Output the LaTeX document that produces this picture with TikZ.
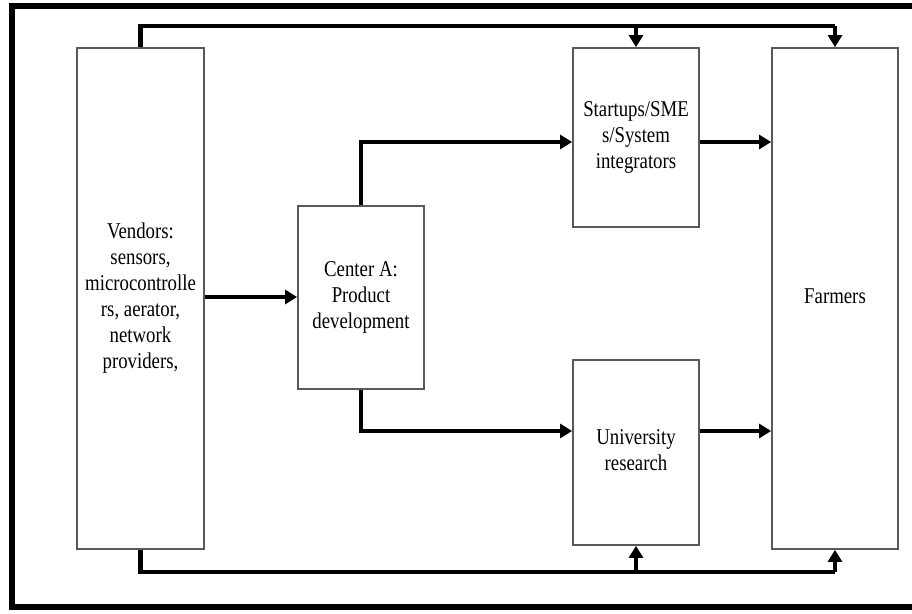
\documentclass[tikz,border=0pt]{standalone}
\usepackage{fontspec}
\usepackage{graphicx}
\setmainfont{Liberation Serif}
\usetikzlibrary{arrows.meta}
% block captions are set a little taller than wide
\newcommand{\tallcaption}[1]{\scalebox{1}[1.2]{\begin{tabular}{@{}c@{}}#1\end{tabular}}}
\begin{document}
\begin{tikzpicture}[x=1pt,y=-1pt,
  block/.style={draw=black!65, line width=1.8pt, fill=white, inner sep=0pt,
    align=center, font=\fontsize{18.8}{21.7}\selectfont},
  flow/.style={line width=4.6pt, line join=miter,
    -{Triangle[length=12pt,width=14pt]}},
  link/.style={line width=4.6pt, line join=miter}]
  \useasboundingbox (0,0) rectangle (912,613);
  \clip (0,0) rectangle (912,613);

  % outer frame, open on the right
  \draw[line width=6.5pt] (930,6) -- (12,6) -- (12,607) -- (930,607);

  % blocks
  \node[block, minimum width=127pt, minimum height=501pt] (vend) at (140.5,298.5)
    {\tallcaption{Vendors:\\ sensors,\\ microcontrolle\\ rs, aerator,\\ network\\ providers,}};
  \node[block, minimum width=126pt, minimum height=183pt] (cena) at (361,297.5)
    {\tallcaption{Center A:\\ Product\\ development}};
  \node[block, minimum width=126pt, minimum height=179pt] (start) at (636,137.5)
    {\raisebox{-4pt}{\tallcaption{Startups/SME\\ s/System\\ integrators}}};
  \node[block, minimum width=126pt, minimum height=185pt] (univ) at (636,452.5)
    {\raisebox{-2pt}{\tallcaption{University\\ research}}};
  \node[block, minimum width=126pt, minimum height=501pt] (farm) at (835,298.5)
    {\tallcaption{Farmers}};

  % routing points
  \coordinate (topbus) at (0,26);
  \coordinate (botbus) at (0,572);
  \coordinate (uprow) at (0,142);
  \coordinate (midrow) at (0,297);
  \coordinate (lowrow) at (0,431);

  % vendors to the upper row
  \draw[link] (vend.north) -- (vend.north |- topbus) -- (farm.north |- topbus);
  \draw[flow] (farm.north |- topbus) -- (farm.north);
  \draw[flow] (start.north |- topbus) -- (start.north);

  % vendors to the lower row
  \draw[link] (vend.south) -- (vend.south |- botbus) -- (farm.south |- botbus);
  \draw[flow] (farm.south |- botbus) -- (farm.south);
  \draw[flow] (univ.south |- botbus) -- (univ.south);

  % vendors to center A
  \draw[flow] (vend.east |- midrow) -- (cena.west |- midrow);

  % center A branches
  \draw[flow] (cena.north) -- (cena.north |- uprow) -- (start.west |- uprow);
  \draw[flow] (cena.south) -- (cena.south |- lowrow) -- (univ.west |- lowrow);

  % into farmers
  \draw[flow] (start.east |- uprow) -- (farm.west |- uprow);
  \draw[flow] (univ.east |- lowrow) -- (farm.west |- lowrow);
\end{tikzpicture}
\end{document}
